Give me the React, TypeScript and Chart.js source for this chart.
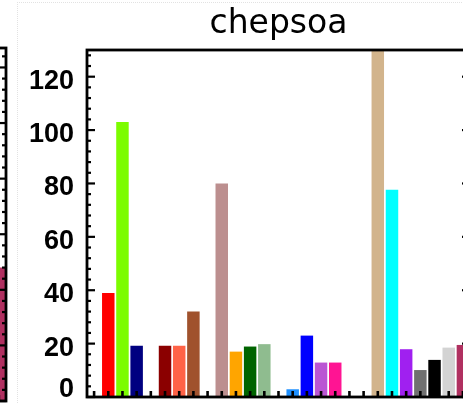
import React, { useEffect, useRef } from "react";
import { Chart, registerables } from "chart.js";

Chart.register(...registerables);

// ---- data ----
const chartTitle = "chepsoa";
const slots = [
  "s0", "s1", "s2", "s3", "s4", "s5", "s6", "s7", "s8", "s9",
  "s10", "s11", "s12", "s13", "s14", "s15", "s16", "s17", "s18", "s19",
  "s20", "s21", "s22", "s23", "s24", "s25", "s26",
];
const values = [
  null, 39, 103, 19.2, null, 19.2, 19.2, 32, null, 80,
  17, 18.9, 19.8, null, 2.9, 23, 12.9, 12.9, null, null,
  131, 77.6, 17.9, 10.1, 13.9, 18.5, 19.5,
];
const barColors = [
  "#ffffff", "#ff0000", "#7cfc00", "#000080", "#ffffff", "#8b0000", "#ff6347", "#a0522d", "#ffffff", "#bc8f8f",
  "#ffa500", "#006400", "#8fbc8f", "#ffffff", "#1e90ff", "#0000ff", "#ba55d3", "#ff1493", "#ffffff", "#ffffff",
  "#d2b48c", "#00ffff", "#a020f0", "#707070", "#000000", "#d3d3d3", "#b03060",
];
const yTickLabels = [0, 20, 40, 60, 80, 100, 120];
const yMax = 130;

// neighbouring panel (only its right edge is visible)
const leftSlots = ["l0", "l1", "l2", "l3"];
const leftValues = [null, null, null, 48];
const leftColors = ["#ffffff", "#ffffff", "#ffffff", "#b03060"];
const leftYMax = 127;

const idlAxes = {
  id: "idlAxes",
  afterDatasetsDraw(chart: any, _args: any, o: any) {
    const { ctx, chartArea } = chart;
    const { left, right, top, bottom } = chartArea;
    const x = chart.scales.x;
    const y = chart.scales.y;
    ctx.save();
    ctx.strokeStyle = "#000";
    ctx.fillStyle = "#000";
    ctx.lineCap = "butt";
    const line = (x1: number, y1: number, x2: number, y2: number, w: number) => {
      ctx.lineWidth = w;
      ctx.beginPath();
      ctx.moveTo(x1, y1);
      ctx.lineTo(x2, y2);
      ctx.stroke();
    };
    for (let v = 0; v <= y.max; v += 4) {
      const py = y.getPixelForValue(v);
      const len = v % 20 === 0 ? 8 : 4;
      if (o.leftTicks) line(left, py, left + len, py, 2.2);
      if (o.rightTicks) line(right, py, right - len, py, 2.2);
    }
    if (o.xTicks) {
      const n = chart.data.labels.length;
      for (let i = 0; i < n; i++) {
        const px = x.getPixelForValue(i);
        line(px, bottom, px, bottom - 6, 2.6);
      }
    }
    ctx.lineWidth = 2.8;
    ctx.strokeRect(left, top, right - left, bottom - top);
    if (o.labels) {
      ctx.font = 'bold 27px "Liberation Sans", Arial, sans-serif';
      ctx.textAlign = "right";
      ctx.textBaseline = "alphabetic";
      for (const v of o.labels) {
        const py = y.getPixelForValue(v);
        ctx.fillText(String(v), left - 13, Math.min(py + 12, bottom - 0.5));
      }
    }
    ctx.restore();
  },
};

export default function App() {
  const mainRef = useRef<HTMLCanvasElement | null>(null);
  const leftRef = useRef<HTMLCanvasElement | null>(null);

  useEffect(() => {
    const main = new Chart(mainRef.current as HTMLCanvasElement, {
      type: "bar",
      data: {
        labels: slots,
        datasets: [
          {
            data: values as any,
            backgroundColor: barColors,
            borderWidth: 0,
            barPercentage: 0.88,
            categoryPercentage: 1,
          },
        ],
      },
      plugins: [idlAxes],
      options: {
        responsive: false,
        animation: false,
        devicePixelRatio: 1,
        layout: { padding: { left: 0, right: 10, top: 0, bottom: 7 } },
        plugins: {
          legend: { display: false },
          tooltip: { enabled: false },
          title: {
            display: true,
            text: chartTitle,
            fullSize: false,
            color: "#000",
            font: { family: '"DejaVu Sans", sans-serif', size: 33, weight: "normal" },
            padding: { top: 5, bottom: 5.4 },
          },
          idlAxes: { leftTicks: true, rightTicks: true, xTicks: true, labels: yTickLabels },
        } as any,
        scales: {
          x: { display: false },
          y: {
            display: true,
            min: 0,
            max: yMax,
            ticks: { display: false },
            grid: { display: false },
            border: { display: false },
            afterFit: (s: any) => {
              s.width = 87;
            },
          },
        },
      },
    });

    const leftChart = new Chart(leftRef.current as HTMLCanvasElement, {
      type: "bar",
      data: {
        labels: leftSlots,
        datasets: [
          {
            data: leftValues as any,
            backgroundColor: leftColors,
            borderWidth: 0,
            barPercentage: 0.88,
            categoryPercentage: 1,
          },
        ],
      },
      plugins: [idlAxes],
      options: {
        responsive: false,
        animation: false,
        devicePixelRatio: 1,
        layout: { padding: { left: 1, right: 2, top: 48, bottom: 3 } },
        plugins: {
          legend: { display: false },
          tooltip: { enabled: false },
          title: { display: false },
          idlAxes: { leftTicks: false, rightTicks: true, xTicks: true, labels: null },
        } as any,
        scales: {
          x: { display: false },
          y: { display: false, min: 0, max: leftYMax },
        },
      },
    });

    return () => {
      main.destroy();
      leftChart.destroy();
    };
  }, []);

  return (
    <div
      style={{
        position: "fixed",
        left: 0,
        top: 0,
        width: 463,
        height: 404,
        overflow: "hidden",
        background: "#fff",
      }}
    >
      <div
        style={{
          position: "absolute",
          left: 17,
          top: 2,
          width: 460,
          height: 420,
          borderTop: "1px dotted #e2e2e2",
          borderLeft: "1px dotted #e2e2e2",
        }}
      />
      <canvas
        ref={leftRef}
        width={60}
        height={404}
        style={{ position: "absolute", left: -52, top: 0, width: 60, height: 404 }}
      />
      <canvas
        ref={mainRef}
        width={480}
        height={404}
        style={{ position: "absolute", left: 0, top: 0, width: 480, height: 404 }}
      />
    </div>
  );
}
